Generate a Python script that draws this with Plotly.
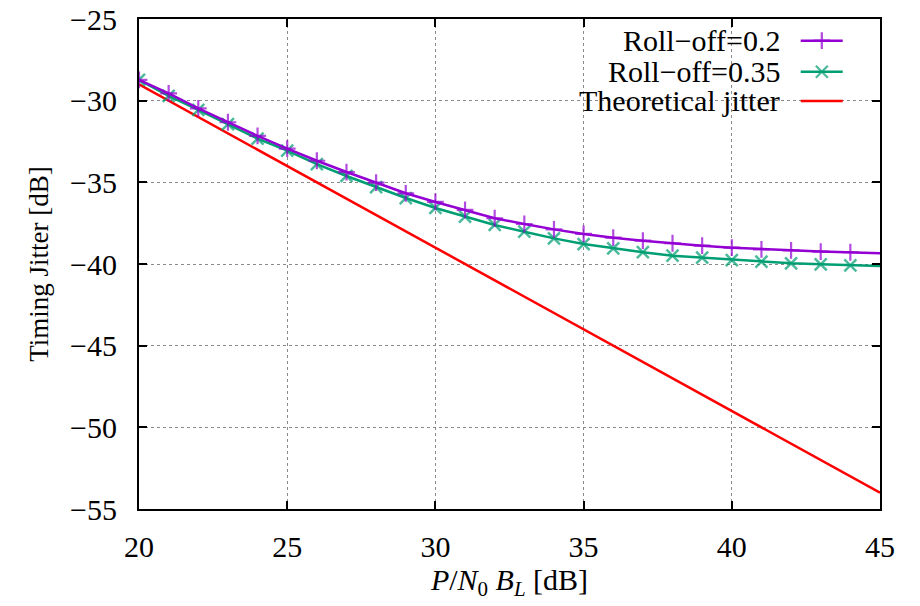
import plotly.graph_objects as go

# ---- data ----
snr_db = list(range(20, 46))  # P/N0 BL [dB]
jitter_rolloff_02 = [-28.73, -29.55, -30.47, -31.32, -32.16, -32.94, -33.68, -34.37, -35.02,
                     -35.67, -36.20, -36.69, -37.20, -37.55, -37.88, -38.16, -38.39, -38.57,
                     -38.73, -38.88, -39.00, -39.10, -39.16, -39.24, -39.28, -39.34]
jitter_rolloff_035 = [-28.72, -29.71, -30.57, -31.43, -32.33, -33.06, -33.88, -34.61, -35.30,
                      -35.96, -36.57, -37.10, -37.61, -38.02, -38.43, -38.78, -39.04, -39.28,
                      -39.49, -39.61, -39.76, -39.86, -39.96, -40.02, -40.08, -40.12]
theory_x = [20, 45]
theory_jitter = [-29.0, -54.0]

x_ticks = [20, 25, 30, 35, 40, 45]
y_ticks = [-25, -30, -35, -40, -45, -50, -55]
legend_labels = ["Roll\u2212off=0.2", "Roll\u2212off=0.35", "Theoretical jitter"]

PURPLE = "#9400D3"
GREEN = "#009E73"
RED = "#FF0000"
FONT = "Liberation Serif"

fig = go.Figure()

n = len(snr_db)
msizes = [12] * (n - 1) + [0]

fig.add_trace(go.Scatter(
    x=theory_x, y=theory_jitter, mode="lines",
    line=dict(color=RED, width=2.5), showlegend=False))
fig.add_trace(go.Scatter(
    x=snr_db, y=jitter_rolloff_035, mode="lines+markers",
    line=dict(color=GREEN, width=2.5),
    marker=dict(symbol="x-thin", size=msizes, line=dict(color=GREEN, width=2.5)),
    showlegend=False))
fig.add_trace(go.Scatter(
    x=snr_db, y=jitter_rolloff_02, mode="lines+markers",
    line=dict(color=PURPLE, width=2.5),
    marker=dict(symbol="cross-thin", size=msizes, line=dict(color=PURPLE, width=2.2)),
    showlegend=False))

# ---- manual legend (gnuplot style: text right, sample on the right) ----
leg_rows = [0.9557, 0.8924, 0.8327]
leg_cols = [PURPLE, GREEN, RED]
leg_syms = ["cross-thin", "x-thin", None]
for lab, yy, col, sym in zip(legend_labels, leg_rows, leg_cols, leg_syms):
    fig.add_annotation(x=0.8677, y=yy, xref="paper", yref="paper", text=lab,
                       showarrow=False, xanchor="right", yanchor="middle",
                       font=dict(family=FONT, size=30, color="black"))
    fig.add_trace(go.Scatter(
        x=[0.893, 0.9215, 0.9497], y=[yy, yy, yy], xaxis="x2", yaxis="y2",
        mode="lines+markers" if sym else "lines",
        line=dict(color=col, width=2.5),
        marker=dict(symbol=sym or "circle", size=[0, 12, 0],
                    line=dict(color=col, width=2.3)),
        showlegend=False, hoverinfo="skip"))

axis_common = dict(
    showline=True, linecolor="black", linewidth=2, mirror="ticks",
    ticks="inside", ticklen=8, tickwidth=1.5, tickcolor="black",
    showgrid=True, gridcolor="#8a8a8a", gridwidth=1, griddash="dot",
    zeroline=False, automargin=False,
    tickfont=dict(family=FONT, size=30, color="black"),
)

fig.update_layout(
    width=920, height=606,
    margin=dict(l=139, r=40, t=19, b=97),
    paper_bgcolor="white", plot_bgcolor="white",
    font=dict(family=FONT, color="black"),
    xaxis=dict(range=[20, 45], tickvals=x_ticks,
               ticktext=[str(v) for v in x_ticks], ticklabelstandoff=10,
               title=dict(text="<i>P</i>/<i>N</i><sub>0</sub> <i>B<sub>L</sub></i> [dB]",
                          font=dict(family=FONT, size=30), standoff=6),
               **axis_common),
    yaxis=dict(range=[-55, -25], tickvals=y_ticks,
               ticktext=[("\u2212" + str(-v)) for v in y_ticks], ticklabelstandoff=14,
               title=dict(text="Timing Jitter [dB]", font=dict(family=FONT, size=27),
                          standoff=14),
               **axis_common),
    xaxis2=dict(range=[0, 1], overlaying="x", visible=False, domain=[0, 1]),
    yaxis2=dict(range=[0, 1], overlaying="y", visible=False),
)

fig.write_html("out.html")
